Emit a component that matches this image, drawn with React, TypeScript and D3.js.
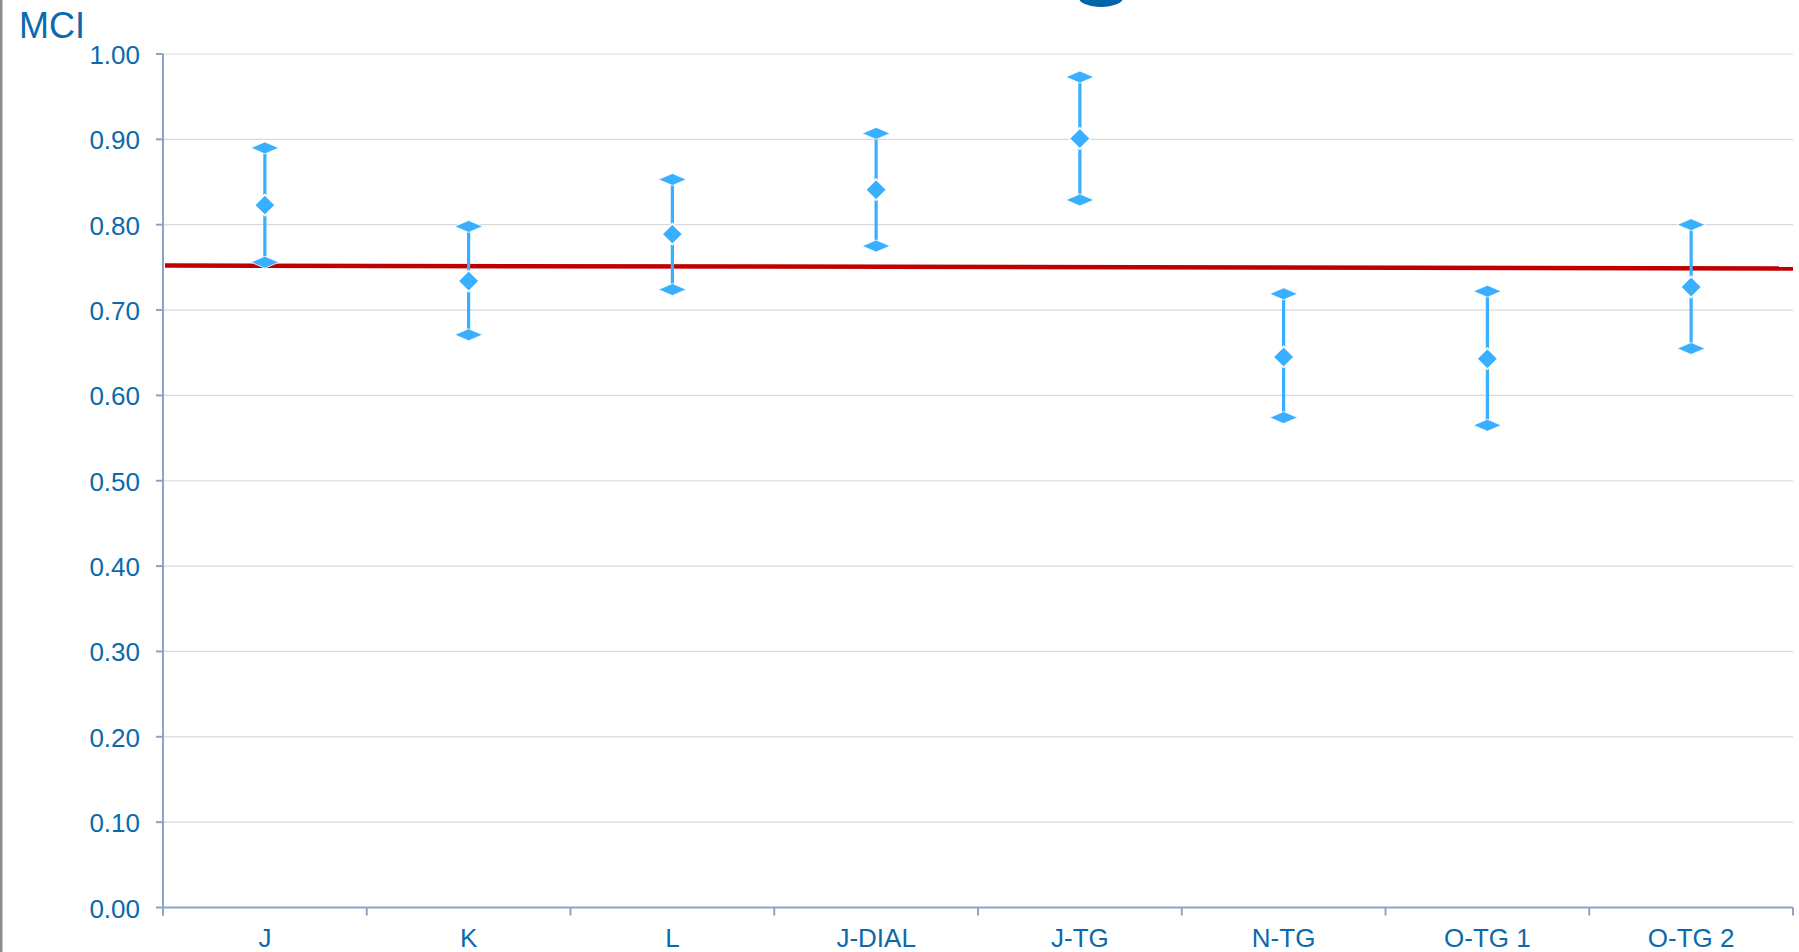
import React from "react";
import * as d3 from "d3";

const categories = ["J", "K", "L", "J-DIAL", "J-TG", "N-TG", "O-TG 1", "O-TG 2"];
const midValues = [0.823, 0.734, 0.789, 0.841, 0.901, 0.645, 0.643, 0.727];
const highValues = [0.890, 0.798, 0.853, 0.907, 0.973, 0.719, 0.722, 0.800];
const lowValues = [0.756, 0.671, 0.724, 0.775, 0.829, 0.574, 0.565, 0.655];
const refLine = [0.7522, 0.7487];
const yTicks = [0, 0.1, 0.2, 0.3, 0.4, 0.5, 0.6, 0.7, 0.8, 0.9, 1.0];

const W = 1799;
const H = 952;
const left = 163;
const right = 1793;
const top = 54;
const bottom = 907.5;

const textColor = "#0B6AAD";
const axisColor = "#8EA3C7";
const gridColor = "#D9D9D9";
const blue = "#38B0FF";
const red = "#C00000";
const font = "'Liberation Sans', Arial, sans-serif";

export default function App() {
  const x = d3.scaleBand<string>().domain(categories).range([left, right]).padding(0);
  const y = d3.scaleLinear().domain([0, 1]).range([bottom, top]);
  const bw = x.bandwidth();

  const capPath = (cx: number, cy: number) =>
    `M${cx - 14},${cy} L${cx},${cy - 6} L${cx + 14},${cy} L${cx},${cy + 6} Z`;
  const midPath = (cx: number, cy: number) =>
    `M${cx - 10.5},${cy} L${cx},${cy - 10.5} L${cx + 10.5},${cy} L${cx},${cy + 10.5} Z`;

  const boundaries = categories.map((c) => x(c) as number).concat([right]);

  return (
    <svg
      width={W}
      height={H}
      style={{ position: "absolute", left: 0, top: 0, background: "#fff" }}
      fontFamily={font}
    >
      <rect x={0} y={0} width={W} height={H} fill="#fff" />
      <rect x={0} y={0} width={2.5} height={H} fill="#8C8C8C" />
      {/* clipped title remnant */}
      <ellipse cx={1101} cy={-2} rx={22} ry={9} fill="#0065A8" />

      <text x={19} y={38} fontSize={36} fill={textColor}>MCI</text>

      {/* gridlines */}
      {yTicks.filter((t) => t > 0).map((t) => (
        <line key={"g" + t} x1={left} x2={right} y1={y(t)} y2={y(t)} stroke={gridColor} strokeWidth={1.2} />
      ))}

      {/* y axis */}
      <line x1={left} x2={left} y1={top} y2={bottom + 8} stroke={axisColor} strokeWidth={2} />
      {yTicks.map((t) => (
        <g key={"t" + t}>
          <line x1={left - 7} x2={left} y1={y(t)} y2={y(t)} stroke={axisColor} strokeWidth={2} />
          <text x={140} y={y(t) + 10} fontSize={26} textAnchor="end" fill={textColor}>
            {d3.format(".2f")(t)}
          </text>
        </g>
      ))}

      {/* x axis */}
      <line x1={left} x2={right} y1={bottom} y2={bottom} stroke={axisColor} strokeWidth={2} />
      {boundaries.map((bx, i) => (
        <line key={"xt" + i} x1={bx} x2={bx} y1={bottom} y2={bottom + 8} stroke={axisColor} strokeWidth={2} />
      ))}
      {categories.map((c) => (
        <text key={"xl" + c} x={(x(c) as number) + bw / 2} y={947} fontSize={26} textAnchor="middle" fill={textColor}>
          {c}
        </text>
      ))}

      {/* reference line */}
      <line
        x1={left + 2}
        x2={right}
        y1={y(refLine[0])}
        y2={y(refLine[1])}
        stroke={red}
        strokeWidth={4.5}
      />

      {/* error bars */}
      {categories.map((c, i) => {
        const cx = (x(c) as number) + bw / 2;
        return (
          <g key={"e" + c}>
            <line x1={cx} x2={cx} y1={y(highValues[i])} y2={y(lowValues[i])} stroke={blue} strokeWidth={3.2} />
            <path d={capPath(cx, y(highValues[i]))} fill={blue} stroke="#fff" strokeWidth={0.8} />
            <path d={capPath(cx, y(lowValues[i]))} fill={blue} stroke="#fff" strokeWidth={0.8} />
            <path d={midPath(cx, y(midValues[i]))} fill={blue} stroke="#fff" strokeWidth={1.6} />
          </g>
        );
      })}
    </svg>
  );
}
